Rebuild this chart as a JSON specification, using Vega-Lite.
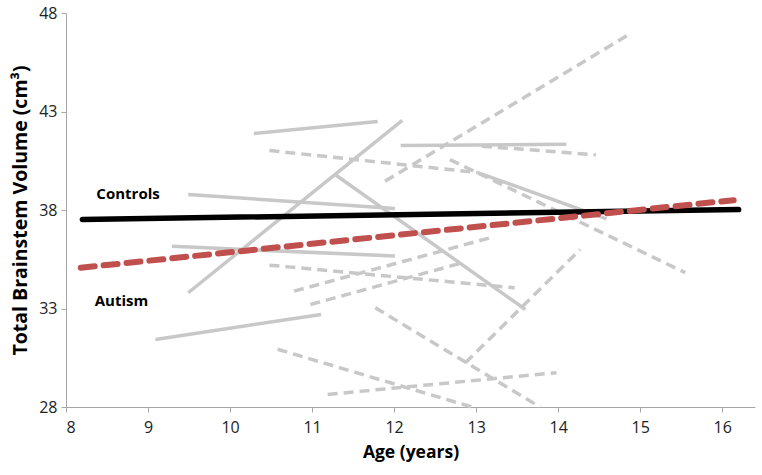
{
  "$schema": "https://vega.github.io/schema/vega-lite/v6.json",
  "autosize": "none",
  "width": 689,
  "height": 394,
  "padding": {"left": 66, "top": 13, "right": 7, "bottom": 68},
  "background": "white",
  "config": {
    "view": {"stroke": null},
    "font": "Open Sans",
    "axis": {
      "grid": false,
      "domainColor": "#a6a6a6",
      "tickColor": "#a6a6a6",
      "tickSize": 5,
      "labelFont": "Open Sans",
      "labelFontSize": 16,
      "labelColor": "#222222",
      "titleFont": "Open Sans",
      "titleFontWeight": "bold",
      "titleColor": "#000000"
    }
  },
  "datasets": {
    "segs": [
      {"id": "s1", "kind": "solid", "age": 10.29, "vol": 41.88},
      {"id": "s1", "kind": "solid", "age": 11.8, "vol": 42.49},
      {"id": "s2", "kind": "solid", "age": 9.49, "vol": 38.79},
      {"id": "s2", "kind": "solid", "age": 12.01, "vol": 38.08},
      {"id": "s3", "kind": "solid", "age": 9.49, "vol": 33.8},
      {"id": "s3", "kind": "solid", "age": 12.1, "vol": 42.55},
      {"id": "s4", "kind": "solid", "age": 11.28, "vol": 39.8},
      {"id": "s4", "kind": "solid", "age": 13.6, "vol": 32.95},
      {"id": "s5", "kind": "solid", "age": 12.08, "vol": 41.27},
      {"id": "s5", "kind": "solid", "age": 14.1, "vol": 41.34},
      {"id": "s6", "kind": "solid", "age": 13.02, "vol": 39.9},
      {"id": "s6", "kind": "solid", "age": 14.59, "vol": 37.55},
      {"id": "s7", "kind": "solid", "age": 9.29, "vol": 36.16},
      {"id": "s7", "kind": "solid", "age": 12.01, "vol": 35.66},
      {"id": "s8", "kind": "solid", "age": 9.09, "vol": 31.43},
      {"id": "s8", "kind": "solid", "age": 11.11, "vol": 32.7},
      {"id": "d1", "kind": "dashed", "age": 10.48, "vol": 41.02},
      {"id": "d1", "kind": "dashed", "age": 13.02, "vol": 39.9},
      {"id": "d2", "kind": "dashed", "age": 13.07, "vol": 41.24},
      {"id": "d2", "kind": "dashed", "age": 14.46, "vol": 40.8},
      {"id": "d3", "kind": "dashed", "age": 11.89, "vol": 39.46},
      {"id": "d3", "kind": "dashed", "age": 14.9, "vol": 47.0},
      {"id": "d4", "kind": "dashed", "age": 10.48, "vol": 35.2},
      {"id": "d4", "kind": "dashed", "age": 13.47, "vol": 34.05},
      {"id": "d5", "kind": "dashed", "age": 10.78, "vol": 33.88},
      {"id": "d5", "kind": "dashed", "age": 13.17, "vol": 36.59},
      {"id": "d6", "kind": "dashed", "age": 10.98, "vol": 33.2},
      {"id": "d6", "kind": "dashed", "age": 12.83, "vol": 35.32},
      {"id": "d7", "kind": "dashed", "age": 10.58, "vol": 30.93},
      {"id": "d7", "kind": "dashed", "age": 12.95, "vol": 28.0},
      {"id": "d8", "kind": "dashed", "age": 11.19, "vol": 28.64},
      {"id": "d8", "kind": "dashed", "age": 13.98, "vol": 29.74},
      {"id": "d9", "kind": "dashed", "age": 11.77, "vol": 33.04},
      {"id": "d9", "kind": "dashed", "age": 13.78, "vol": 28.0},
      {"id": "d10", "kind": "dashed", "age": 12.87, "vol": 30.25},
      {"id": "d10", "kind": "dashed", "age": 14.27, "vol": 36.0},
      {"id": "d11", "kind": "dashed", "age": 12.68, "vol": 40.56},
      {"id": "d11", "kind": "dashed", "age": 15.55, "vol": 34.82},
      {"id": "controls", "kind": "controls", "age": 8.2, "vol": 37.52},
      {"id": "controls", "kind": "controls", "age": 16.2, "vol": 38.02},
      {"id": "autism", "kind": "autism", "age": 8.18, "vol": 35.07},
      {"id": "autism", "kind": "autism", "age": 16.14, "vol": 38.5}
    ],
    "labels": [
      {"label": "Controls", "age": 8.37, "vol": 38.79},
      {"label": "Autism", "age": 8.35, "vol": 33.36}
    ]
  },
  "encoding": {
    "x": {
      "field": "age", "type": "quantitative",
      "scale": {"domain": [8, 16.4], "nice": false, "zero": false},
      "axis": {"values": [8, 9, 10, 11, 12, 13, 14, 15, 16], "title": "Age (years)", "titleFontSize": 17.5, "titlePadding": 8, "labelPadding": 7}
    },
    "y": {
      "field": "vol", "type": "quantitative",
      "scale": {"domain": [28, 48], "nice": false, "zero": false},
      "axis": {"values": [28, 33, 38, 43, 48], "title": "Total Brainstem Volume (cm³)", "titleFontSize": 19.5, "titlePadding": 8, "labelPadding": 4}
    }
  },
  "layer": [
    {
      "data": {"name": "segs"},
      "transform": [{"filter": "datum.kind === 'solid'"}],
      "mark": {"type": "line", "color": "#c8c8c8", "strokeWidth": 3.5},
      "encoding": {"detail": {"field": "id"}}
    },
    {
      "data": {"name": "segs"},
      "transform": [{"filter": "datum.kind === 'dashed'"}],
      "mark": {"type": "line", "color": "#c8c8c8", "strokeWidth": 3.5, "strokeDash": [10, 6]},
      "encoding": {"detail": {"field": "id"}}
    },
    {
      "data": {"name": "segs"},
      "transform": [{"filter": "datum.kind === 'controls'"}],
      "mark": {"type": "line", "color": "#000000", "strokeWidth": 5.5, "strokeCap": "round"},
      "encoding": {"detail": {"field": "id"}}
    },
    {
      "data": {"name": "segs"},
      "transform": [{"filter": "datum.kind === 'autism'"}],
      "mark": {"type": "line", "color": "#c0504d", "strokeWidth": 6, "strokeDash": [14, 9], "strokeCap": "round"},
      "encoding": {"detail": {"field": "id"}}
    },
    {
      "data": {"name": "labels"},
      "mark": {"type": "text", "align": "left", "baseline": "middle", "font": "Open Sans", "fontSize": 15, "fontWeight": "bold", "color": "#000000"},
      "encoding": {"text": {"field": "label"}}
    }
  ]
}
